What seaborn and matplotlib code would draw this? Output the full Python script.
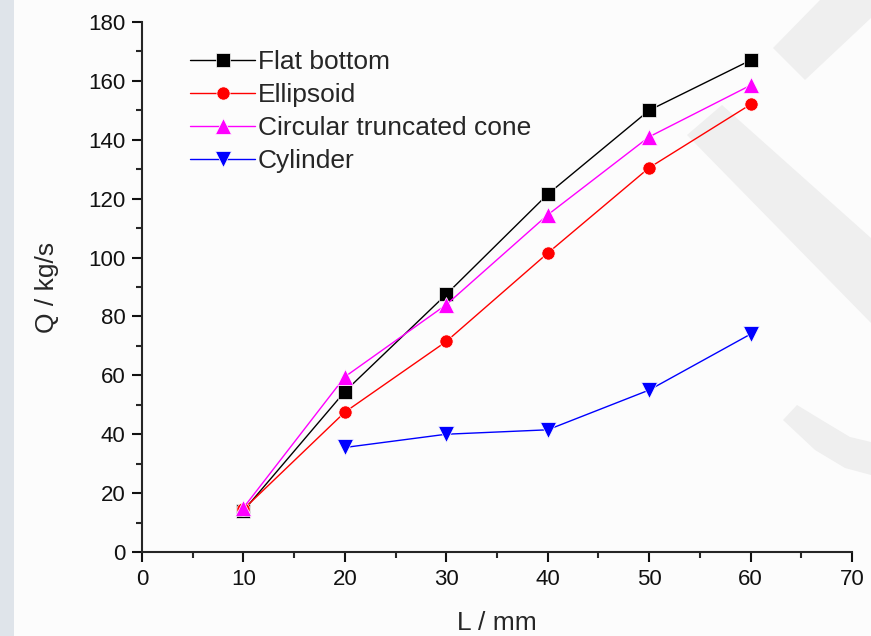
import matplotlib
matplotlib.use("Agg")
import matplotlib.pyplot as plt
import seaborn as sns
import pandas as pd
from matplotlib.ticker import MultipleLocator
from matplotlib.patches import Polygon, Rectangle

L = [10, 20, 30, 40, 50, 60]
flat_bottom = [14, 54.5, 87.5, 121.5, 150, 167]
ellipsoid = [14.5, 47.5, 71.5, 101.5, 130.5, 152]
truncated_cone = [15, 59.5, 84, 114.5, 141, 158.5]
L_cyl = [20, 30, 40, 50, 60]
cylinder = [35.5, 40, 41.5, 55, 74]

names = ["Flat bottom", "Ellipsoid", "Circular truncated cone", "Cylinder"]
colors = ["#000000", "#ff0000", "#ff00ff", "#0000ff"]
markers = ["s", "o", "^", "v"]

rows = []
for name, xs, ys in [(names[0], L, flat_bottom), (names[1], L, ellipsoid),
                     (names[2], L, truncated_cone), (names[3], L_cyl, cylinder)]:
    for x, y in zip(xs, ys):
        rows.append({"L": x, "Q": y, "shape": name})
df = pd.DataFrame(rows)

sns.set_style("ticks")
plt.rcParams["font.family"] = ["Liberation Sans", "DejaVu Sans"]

W, H = 871, 636
fig = plt.figure(figsize=(W / 100, H / 100), dpi=100)
fig.patch.set_facecolor("#fcfcfc")


def px(pts):
    return [(x / W, 1 - y / H) for x, y in pts]


# background decoration (watermark-like shapes)
fig.patches.append(Rectangle((0, 0), 0.016, 1, transform=fig.transFigure,
                             facecolor="#dfe4ea", edgecolor="none", zorder=-5))
for shape in [
    [(773, 48), (820, 0), (871, 0), (871, 18), (805, 80)],
    [(687, 135), (722, 105), (871, 238), (871, 323)],
    [(797, 405), (825, 422), (850, 437), (871, 442), (871, 475), (845, 468),
     (815, 450), (783, 420)],
]:
    fig.patches.append(Polygon(px(shape), closed=True, transform=fig.transFigure,
                               facecolor="#efefef", edgecolor="none", zorder=-5))

ax = fig.add_axes([142 / W, 1 - 552 / H, 710 / W, 530 / H])
ax.set_facecolor("none")

sns.lineplot(data=df, x="L", y="Q", hue="shape", style="shape",
             hue_order=names, style_order=names,
             palette=dict(zip(names, colors)),
             markers=dict(zip(names, markers)),
             dashes=False, linewidth=1, markersize=9.5,
             markeredgewidth=0.5, ax=ax, legend=True)

handles, labels = ax.get_legend_handles_labels()
for line in list(ax.get_lines()) + list(handles):
    line.set_alpha(1)
    if line.get_marker() in ("^", "v"):
        line.set_markersize(11.5)

ax.set_xlim(0, 70)
ax.set_ylim(0, 180)
ax.xaxis.set_major_locator(MultipleLocator(10))
ax.xaxis.set_minor_locator(MultipleLocator(5))
ax.yaxis.set_major_locator(MultipleLocator(20))
ax.yaxis.set_minor_locator(MultipleLocator(10))
ax.tick_params(which="major", direction="out", length=7, width=1.5,
               labelsize=16, colors="#111111", pad=5)
ax.tick_params(which="minor", direction="out", length=4, width=1.5)
for s in ["left", "bottom"]:
    ax.spines[s].set_linewidth(1.5)
sns.despine(ax=ax)

ax.set_xlabel("L / mm", fontsize=19, labelpad=15)
ax.set_ylabel("Q / kg/s", fontsize=19, labelpad=21)

ax.legend(handles, labels, loc="upper left", bbox_to_anchor=(0.068, 0.947),
          frameon=False, fontsize=19, handlelength=2.45, handletextpad=0.12,
          labelspacing=0.34, borderaxespad=0, borderpad=0)

fig.savefig("out.png", dpi=100, facecolor=fig.get_facecolor())
